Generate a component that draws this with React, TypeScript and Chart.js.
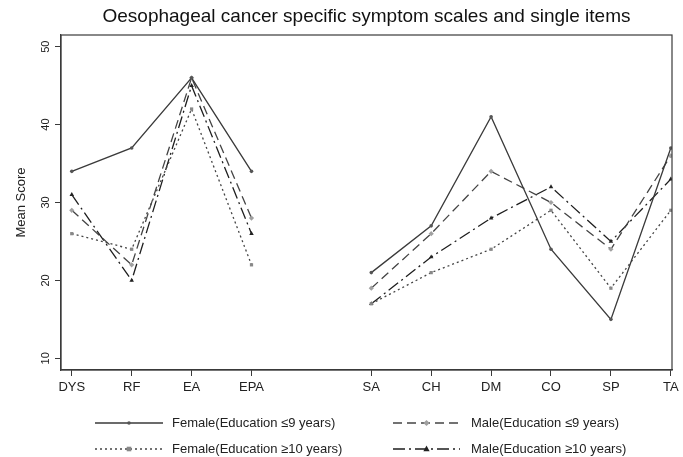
import React, { useEffect, useRef } from 'react';
import { Chart, registerables } from 'chart.js';

Chart.register(...registerables);

const TITLE = 'Oesophageal cancer specific symptom scales and single items';
const Y_TITLE = 'Mean Score';
const categories = ['DYS', 'RF', 'EA', 'EPA', '', 'SA', 'CH', 'DM', 'CO', 'SP', 'TA'];
const yTicks = [10, 20, 30, 40, 50];
const femaleLow: (number | null)[] = [34, 37, 46, 34, null, 21, 27, 41, 24, 15, 37];
const maleLow: (number | null)[] = [29, 22, 46, 28, null, 19, 26, 34, 30, 24, 36];
const femaleHigh: (number | null)[] = [26, 24, 42, 22, null, 17, 21, 24, 29, 19, 29];
const maleHigh: (number | null)[] = [31, 20, 45, 26, null, 17, 23, 28, 32, 25, 33];
const seriesLabels = [
  'Female(Education ≤9 years)',
  'Male(Education ≤9 years)',
  'Female(Education ≥10 years)',
  'Male(Education ≥10 years)',
];

const FONT = '"Liberation Sans", Arial, sans-serif';

const styles = [
  { color: '#3a3a3a', dash: [] as number[], point: 'circle', radius: 1.8, pointColor: '#555' },
  { color: '#444444', dash: [9, 5], point: 'rectRot', radius: 2.6, pointColor: '#a0a0a0' },
  { color: '#444444', dash: [2, 3], point: 'rect', radius: 2.3, pointColor: '#888888' },
  { color: '#1e1e1e', dash: [12, 4, 2, 4], point: 'triangle', radius: 2.6, pointColor: '#222222' },
];

const seriesValues = [femaleLow, maleLow, femaleHigh, maleHigh];

const toPoints = (vals: (number | null)[]) => vals.map((v, i) => ({ x: i, y: v }));

function drawMarker(ctx: CanvasRenderingContext2D, style: string, x: number, y: number, r: number, color: string) {
  ctx.save();
  ctx.fillStyle = color;
  ctx.beginPath();
  if (style === 'circle') {
    ctx.arc(x, y, r, 0, Math.PI * 2);
  } else if (style === 'rectRot') {
    ctx.moveTo(x, y - r * 1.2);
    ctx.lineTo(x + r * 1.2, y);
    ctx.lineTo(x, y + r * 1.2);
    ctx.lineTo(x - r * 1.2, y);
    ctx.closePath();
  } else if (style === 'rect') {
    ctx.rect(x - r, y - r, 2 * r, 2 * r);
  } else {
    ctx.moveTo(x, y - r * 1.3);
    ctx.lineTo(x + r * 1.2, y + r * 0.9);
    ctx.lineTo(x - r * 1.2, y + r * 0.9);
    ctx.closePath();
  }
  ctx.fill();
  ctx.restore();
}

const decorPlugin = {
  id: 'decor',
  afterDraw(chart: any) {
    const ctx = chart.ctx as CanvasRenderingContext2D;
    const area = chart.chartArea;
    const yScale = chart.scales.y;
    ctx.save();
    // box
    ctx.strokeStyle = '#3a3a3a';
    ctx.lineWidth = 1.2;
    ctx.setLineDash([]);
    ctx.strokeRect(area.left, area.top, area.right - area.left, area.bottom - area.top);
    // title
    ctx.fillStyle = '#111';
    ctx.font = `19px ${FONT}`;
    ctx.textAlign = 'center';
    ctx.textBaseline = 'middle';
    ctx.fillText(TITLE, (area.left + area.right) / 2, 17);
    // y tick labels rotated
    ctx.font = `11px ${FONT}`;
    ctx.fillStyle = '#222';
    yTicks.forEach((v) => {
      const py = yScale.getPixelForValue(v);
      ctx.save();
      ctx.translate(46, py);
      ctx.rotate(-Math.PI / 2);
      ctx.fillText(String(v), 0, 0);
      ctx.restore();
    });
    // y title
    ctx.font = `13px ${FONT}`;
    ctx.save();
    ctx.translate(21, (area.top + area.bottom) / 2);
    ctx.rotate(-Math.PI / 2);
    ctx.fillText(Y_TITLE, 0, 0);
    ctx.restore();
    // legend
    const cols = [
      { x0: 95, x1: 163, tx: 172 },
      { x0: 393, x1: 460, tx: 471 },
    ];
    const rows = [423, 449];
    seriesLabels.forEach((label, k) => {
      const c = cols[k % 2];
      const ry = rows[Math.floor(k / 2)];
      const st = styles[k];
      ctx.strokeStyle = st.color;
      ctx.lineWidth = 1.3;
      ctx.setLineDash(st.dash);
      ctx.beginPath();
      ctx.moveTo(c.x0, ry);
      ctx.lineTo(c.x1, ry);
      ctx.stroke();
      ctx.setLineDash([]);
      drawMarker(ctx, st.point, (c.x0 + c.x1) / 2, ry, st.radius, st.pointColor);
      ctx.fillStyle = '#222';
      ctx.font = `13px ${FONT}`;
      ctx.textAlign = 'left';
      ctx.textBaseline = 'middle';
      ctx.fillText(label, c.tx, ry);
    });
    ctx.restore();
  },
};

export default function App() {
  const ref = useRef<HTMLCanvasElement | null>(null);
  useEffect(() => {
    if (!ref.current) return;
    const chart = new Chart(ref.current, {
      type: 'line',
      data: {
        datasets: seriesValues.map((vals, i) => ({
          label: seriesLabels[i],
          data: toPoints(vals),
          borderColor: styles[i].color,
          borderWidth: 1.3,
          borderDash: styles[i].dash,
          pointStyle: styles[i].point as any,
          pointRadius: styles[i].radius,
          pointBackgroundColor: styles[i].pointColor,
          pointBorderColor: styles[i].pointColor,
          pointBorderWidth: 0,
          fill: false,
          tension: 0,
          spanGaps: false,
        })),
      },
      options: {
        animation: false,
        responsive: true,
        maintainAspectRatio: false,
        layout: { padding: { left: 0, top: 35, right: 11, bottom: 57 } },
        plugins: { legend: { display: false }, title: { display: false }, tooltip: { enabled: false } },
        scales: {
          x: {
            type: 'linear',
            min: -0.18,
            max: 10.02,
            afterBuildTicks: (scale: any) => {
              scale.ticks = categories
                .map((c, i) => (c ? { value: i } : null))
                .filter((t) => t !== null);
            },
            afterFit: (scale: any) => {
              scale.height = 30;
            },
            ticks: {
              autoSkip: false,
              maxRotation: 0,
              minRotation: 0,
              padding: 4,
              color: '#222',
              font: { family: FONT, size: 13 },
              callback: (v: any) => categories[Math.round(Number(v))] ?? '',
            },
            grid: { display: true, drawOnChartArea: false, drawTicks: true, tickLength: 6, color: '#3a3a3a', lineWidth: 1 },
            border: { display: true, color: '#3a3a3a', width: 1.2 },
          },
          y: {
            type: 'linear',
            min: 8.5,
            max: 51.5,
            afterBuildTicks: (scale: any) => {
              scale.ticks = yTicks.map((v) => ({ value: v }));
            },
            afterFit: (scale: any) => {
              scale.width = 61;
            },
            ticks: { display: false },
            grid: { display: true, drawOnChartArea: false, drawTicks: true, tickLength: 6, color: '#3a3a3a', lineWidth: 1 },
            border: { display: true, color: '#3a3a3a', width: 1.2 },
          },
        },
      },
      plugins: [decorPlugin],
    });
    return () => chart.destroy();
  }, []);
  return (
    <div style={{ position: 'fixed', left: 0, top: 0, width: 683, height: 457, background: '#fff' }}>
      <canvas ref={ref} />
    </div>
  );
}
